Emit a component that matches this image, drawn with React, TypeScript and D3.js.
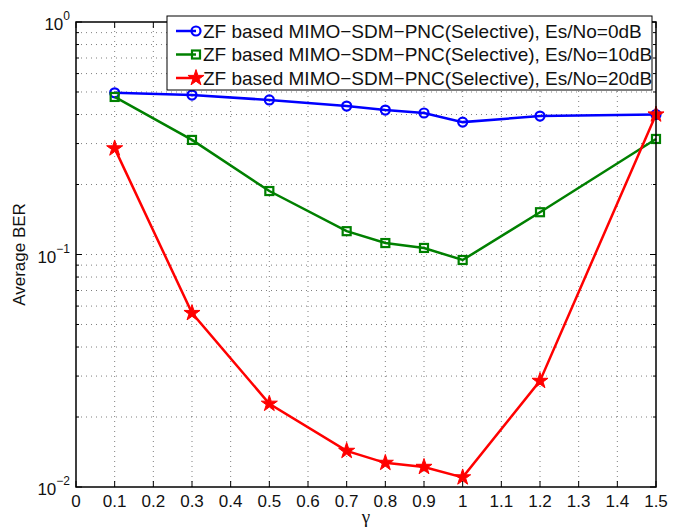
import * as d3 from 'd3';

const gammas = [0.1, 0.3, 0.5, 0.7, 0.8, 0.9, 1.0, 1.2, 1.5];
const ber0dB = [0.496, 0.485, 0.462, 0.435, 0.418, 0.406, 0.371, 0.394, 0.4];
const ber10dB = [0.476, 0.311, 0.1875, 0.126, 0.112, 0.1067, 0.0947, 0.152, 0.314];
const ber20dB = [0.286, 0.056, 0.0228, 0.0143, 0.0127, 0.0122, 0.011, 0.0286, 0.4];
const seriesLabels = [
  'ZF based MIMO\u2212SDM\u2212PNC(Selective), Es/No=0dB',
  'ZF based MIMO\u2212SDM\u2212PNC(Selective), Es/No=10dB',
  'ZF based MIMO\u2212SDM\u2212PNC(Selective), Es/No=20dB',
];
const xTicks = d3.range(0, 16).map((i) => i / 10);
const yDecades = [-2, -1, 0];

const W = 681;
const H = 529;
const m = { left: 76, right: 25, top: 22, bottom: 42 };
const font = 'Liberation Sans, Arial, Helvetica, sans-serif';

const App = () => {
  const x = d3.scaleLinear().domain([0, 1.5]).range([m.left, W - m.right]);
  const y = d3.scaleLog().domain([0.01, 1]).range([H - m.bottom, m.top]);
  const x0 = m.left, x1 = W - m.right, y0 = H - m.bottom, y1 = m.top;

  const minor: number[] = [];
  [0.01, 0.1].forEach((d) => {
    for (let k = 2; k <= 9; k++) minor.push(d * k);
  });

  const line = d3
    .line<number>()
    .x((_, i) => x(gammas[i]))
    .y((v) => y(v));

  const series = [
    { vals: ber0dB, color: '#0000ff', marker: 'circle' },
    { vals: ber10dB, color: '#008000', marker: 'square' },
    { vals: ber20dB, color: '#ff0000', marker: 'star' },
  ];

  const star = d3.symbol().type(d3.symbolStar).size(80)();

  const marker = (kind: string, color: string, cx: number, cy: number, key: any) => {
    if (kind === 'circle')
      return <circle key={key} cx={cx} cy={cy} r={4.5} fill='none' stroke={color} strokeWidth={2.2} />;
    if (kind === 'square')
      return (
        <rect key={key} x={cx - 4} y={cy - 4} width={8} height={8} fill='none' stroke={color} strokeWidth={2.2} />
      );
    return <path key={key} d={star!} transform={`translate(${cx},${cy})`} fill={color} stroke={color} strokeWidth={1} />;
  };

  const grid = 'rgba(0,0,0,0.5)';

  return (
    <svg width={W} height={H} style={{ position: 'absolute', left: 0, top: 0 }}>
      <rect width={W} height={H} fill='white' />
      {/* grid */}
      <g stroke={grid} strokeWidth={1} strokeDasharray='1,4'>
        {xTicks.slice(1, -1).map((t) => (
          <line key={'gx' + t} x1={x(t)} x2={x(t)} y1={y0} y2={y1} />
        ))}
        {[...minor, 0.1].map((v) => (
          <line key={'gy' + v} x1={x0} x2={x1} y1={y(v)} y2={y(v)} />
        ))}
      </g>
      {/* ticks */}
      <g stroke='black' strokeWidth={1}>
        {xTicks.map((t) => (
          <g key={'tx' + t}>
            <line x1={x(t)} x2={x(t)} y1={y0} y2={y0 - 6} />
            <line x1={x(t)} x2={x(t)} y1={y1} y2={y1 + 6} />
          </g>
        ))}
        {yDecades.map((p) => (
          <g key={'ty' + p}>
            <line x1={x0} x2={x0 + 6} y1={y(10 ** p)} y2={y(10 ** p)} />
            <line x1={x1} x2={x1 - 6} y1={y(10 ** p)} y2={y(10 ** p)} />
          </g>
        ))}
        {minor.map((v) => (
          <g key={'tm' + v}>
            <line x1={x0} x2={x0 + 3} y1={y(v)} y2={y(v)} />
            <line x1={x1} x2={x1 - 3} y1={y(v)} y2={y(v)} />
          </g>
        ))}
      </g>
      {/* series */}
      {series.map((s, si) => (
        <g key={'s' + si}>
          <path d={line(s.vals)!} fill='none' stroke={s.color} strokeWidth={2.5} />
          {s.vals.map((v, i) => marker(s.marker, s.color, x(gammas[i]), y(v), i))}
        </g>
      ))}
      {/* axes box */}
      <rect x={x0} y={y1} width={x1 - x0} height={y0 - y1} fill='none' stroke='black' strokeWidth={1.5} />
      {/* x tick labels */}
      <g fontFamily={font} fontSize={17} fill='#111' textAnchor='middle'>
        {xTicks.map((t) => (
          <text key={'lx' + t} x={x(t)} y={y0 + 20}>
            {d3.format('~g')(t)}
          </text>
        ))}
      </g>
      {/* y tick labels */}
      <g fontFamily={font} fill='#111'>
        {yDecades.map((p) => (
          <text key={'ly' + p} x={x0 - 6} y={y(10 ** p) + 8} fontSize={17} textAnchor='end'>
            10
            <tspan dy={-10} fontSize={12}>
              {p < 0 ? '\u2212' + -p : String(p)}
            </tspan>
          </text>
        ))}
      </g>
      <text
        transform={`translate(25,${(y0 + y1) / 2}) rotate(-90)`}
        textAnchor='middle'
        fontFamily={font}
        fontSize={17}
        fill='#111'
      >
        Average BER
      </text>
      <text x={(x0 + x1) / 2} y={H - 6} textAnchor='middle' fontFamily='Liberation Serif, Times New Roman, serif' fontSize={19} fill='#111'>
        γ
      </text>
      {/* legend */}
      <g>
        <rect x={167} y={16} width={485} height={74} fill='white' stroke='black' strokeWidth={1} />
        {series.map((s, i) => {
          const ly = 31 + i * 23.5;
          return (
            <g key={'lg' + i}>
              <line x1={176} x2={196} y1={ly} y2={ly} stroke={s.color} strokeWidth={2.5} />
              {marker(s.marker, s.color, 196, ly, 'm')}
              <text x={203} y={ly + 6.5} fontFamily={font} fontSize={19} fill='#111'>
                {seriesLabels[i]}
              </text>
            </g>
          );
        })}
      </g>
    </svg>
  );
};

export default App;
